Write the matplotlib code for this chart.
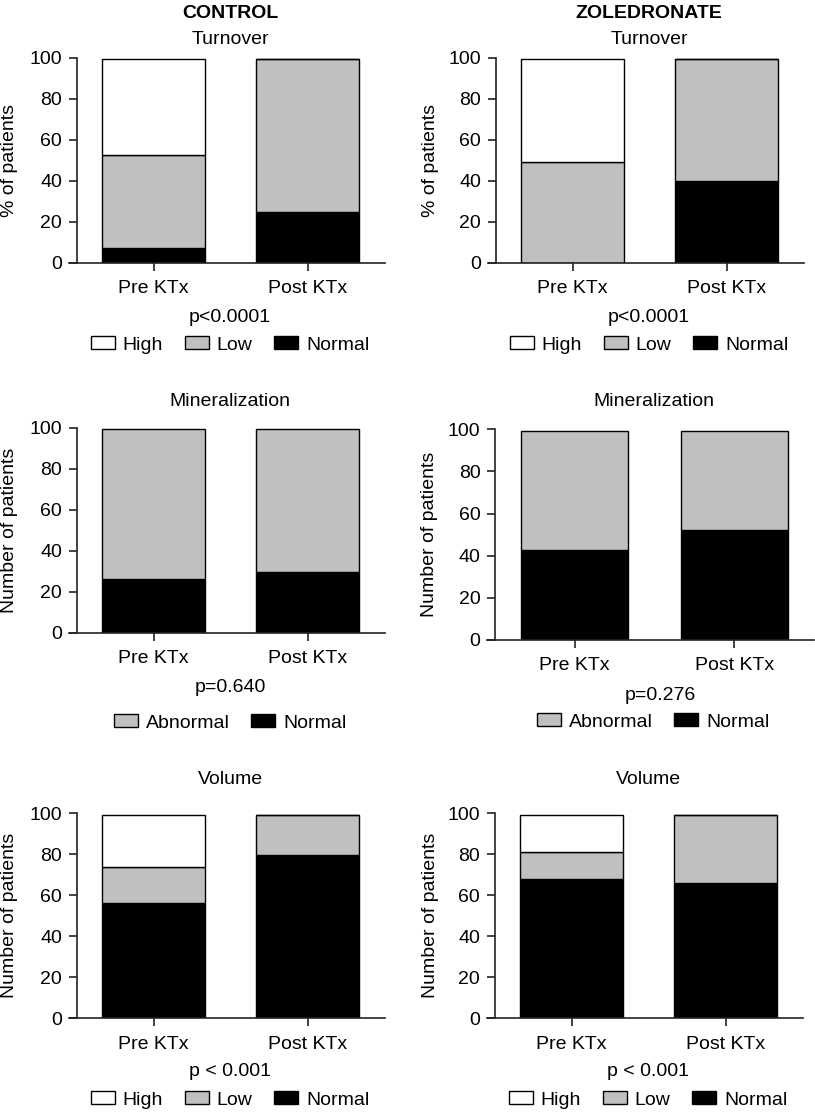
import matplotlib
matplotlib.use("Agg")
import matplotlib.pyplot as plt
from matplotlib.patches import Patch

plt.rcParams["font.family"] = ["Liberation Sans", "DejaVu Sans"]

W, H = 815, 1112
FS = 14

groups = ["Pre KTx", "Post KTx"]

# Turnover (% of patients)
ctrl_turn_normal = [7.0, 24.6]
ctrl_turn_low = [45.4, 74.6]
ctrl_turn_high = [47.0, 0.0]
zol_turn_normal = [0.0, 39.8]
zol_turn_low = [49.1, 59.4]
zol_turn_high = [50.1, 0.0]

# Mineralization
ctrl_min_normal = [26.2, 29.8]
ctrl_min_abnormal = [73.0, 69.4]
zol_min_normal = [42.7, 52.2]
zol_min_abnormal = [56.5, 47.0]

# Volume
ctrl_vol_normal = [56.1, 79.8]
ctrl_vol_low = [17.7, 19.2]
ctrl_vol_high = [25.2, 0.0]
zol_vol_normal = [67.9, 66.1]
zol_vol_low = [13.2, 32.9]
zol_vol_high = [17.9, 0.0]

p_texts = ["p<0.0001", "p<0.0001", "p=0.640", "p=0.276", "p < 0.001", "p < 0.001"]

COLORS = {"High": "white", "Low": "#c0c0c0", "Abnormal": "#c0c0c0", "Normal": "black"}

fig = plt.figure(figsize=(W / 100, H / 100), dpi=100)


def fx(x):
    return x / W


def fy(y):
    return 1 - y / H


def panel(left, spacing, y0, y100, stacks, title, ylabel, ylab_x, p_text, p_xy,
          title_xy, legend_order, legend_xy, width=0.67):
    right = left + 2.05 * spacing
    ax = fig.add_axes([fx(left), fy(y0), (right - left) / W, (y0 - y100) / H])
    x = [0, 1]
    bottom = [0.0, 0.0]
    for name, vals in stacks:
        ax.bar(x, vals, width, bottom=bottom, color=COLORS[name],
               edgecolor="black", linewidth=1.0, zorder=2)
        bottom = [b + v for b, v in zip(bottom, vals)]
    ax.set_xlim(-0.55, 1.5)
    ax.set_ylim(0, 100)
    ax.set_yticks([0, 20, 40, 60, 80, 100])
    ax.set_xticks(x)
    ax.set_xticklabels(groups)
    for s in ["top", "right"]:
        ax.spines[s].set_visible(False)
    ax.spines["left"].set_position(("data", -0.5))
    for s in ["left", "bottom"]:
        ax.spines[s].set_linewidth(1.2)
        ax.spines[s].set_color("#222222")
    ax.tick_params(axis="y", length=5.5, width=1.2, color="#222222", pad=5, labelsize=FS)
    ax.tick_params(axis="x", length=5.5, width=1.2, color="#222222", pad=7, labelsize=FS)
    ax.patch.set_alpha(0)

    fig.text(fx(title_xy[0]), fy(title_xy[1]), title, ha="center", va="center", fontsize=FS)
    fig.text(fx(ylab_x), fy((y0 + y100) / 2), ylabel, ha="center", va="center",
             rotation=90, fontsize=FS)
    fig.text(fx(p_xy[0]), fy(p_xy[1]), p_text, ha="center", va="center", fontsize=FS)

    handles = [Patch(facecolor=COLORS[n], edgecolor="black", linewidth=1.0, label=n)
               for n in legend_order]
    fig.legend(handles=handles, loc="center", bbox_to_anchor=(fx(legend_xy[0]), fy(legend_xy[1])),
               ncol=len(handles), frameon=False, fontsize=FS, handlelength=1.25,
               handleheight=0.65, handletextpad=0.4, columnspacing=1.1,
               borderpad=0, borderaxespad=0)
    return ax


# column headers
fig.text(fx(230), fy(13), "CONTROL", ha="center", va="center", fontsize=FS, fontweight="bold")
fig.text(fx(649), fy(13), "ZOLEDRONATE", ha="center", va="center", fontsize=FS, fontweight="bold")

# Turnover
panel(69, 154, 262.7, 57.7,
      [("Normal", ctrl_turn_normal), ("Low", ctrl_turn_low), ("High", ctrl_turn_high)],
      "Turnover", "% of patients", 10, p_texts[0], (230, 317), (230, 40),
      ["High", "Low", "Normal"], (230, 345))
panel(488, 154, 262.7, 57.7,
      [("Normal", zol_turn_normal), ("Low", zol_turn_low), ("High", zol_turn_high)],
      "Turnover", "% of patients", 431, p_texts[1], (649, 317), (649, 40),
      ["High", "Low", "Normal"], (649, 345))

# Mineralization
panel(69, 154, 632.7, 427.7,
      [("Normal", ctrl_min_normal), ("Abnormal", ctrl_min_abnormal)],
      "Mineralization", "Number of patients", 10, p_texts[2], (230, 687), (230, 402),
      ["Abnormal", "Normal"], (230, 723))
panel(487, 159.5, 640, 429.3,
      [("Normal", zol_min_normal), ("Abnormal", zol_min_abnormal)],
      "Mineralization", "Number of patients", 430, p_texts[3], (660, 695), (654, 402),
      ["Abnormal", "Normal"], (653, 722))

# Volume
panel(69, 154, 1018.3, 813.3,
      [("Normal", ctrl_vol_normal), ("Low", ctrl_vol_low), ("High", ctrl_vol_high)],
      "Volume", "Number of patients", 10, p_texts[4], (230, 1072), (230, 780),
      ["High", "Low", "Normal"], (230, 1100))
panel(487, 154, 1018.3, 813.0,
      [("Normal", zol_vol_normal), ("Low", zol_vol_low), ("High", zol_vol_high)],
      "Volume", "Number of patients", 431, p_texts[5], (648, 1072), (648, 780),
      ["High", "Low", "Normal"], (648, 1100))

fig.savefig("out.png", dpi=100)
